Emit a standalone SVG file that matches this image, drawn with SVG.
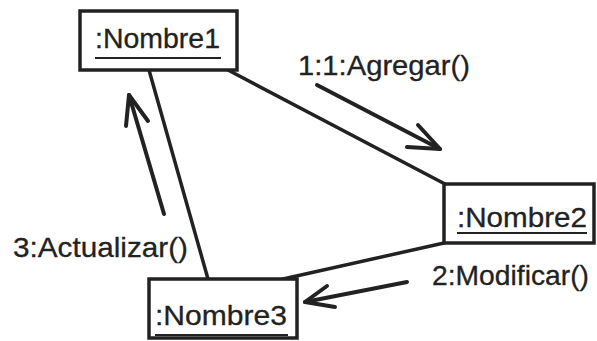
<svg xmlns="http://www.w3.org/2000/svg" width="597" height="341" viewBox="0 0 597 341">
<style>
.box{fill:#fff;stroke:#222;stroke-width:3.5}
.t{font-family:"Liberation Sans",Arial,sans-serif;font-size:28.5px;fill:#222;stroke:#222;stroke-width:0.3}
.u{stroke:#222;stroke-width:2}
.c{stroke:#222;stroke-width:3.5;fill:none;stroke-linecap:round}
.a{stroke:#222;stroke-width:4;fill:none;stroke-linecap:round;stroke-linejoin:round}
</style>
<rect width="597" height="341" fill="#fff"/>
<g id="connectors">
<line class="c" x1="149" y1="70" x2="208" y2="279"/>
<line class="c" x1="228" y1="70" x2="445" y2="184"/>
<line class="c" x1="283" y1="279" x2="444" y2="243"/>
<g id="msg1">
<line class="a" x1="317" y1="85" x2="440" y2="149"/>
<polyline class="a" points="418,125 440,149 407,147"/>
<text class="t" x="298" y="75" textLength="172" lengthAdjust="spacingAndGlyphs">1:1:Agregar()</text>
</g>
<g id="msg2">
<line class="a" x1="407" y1="282" x2="305" y2="302"/>
<polyline class="a" points="327,286 305,302 335,307"/>
<text class="t" x="432" y="285" textLength="157" lengthAdjust="spacingAndGlyphs">2:Modificar()</text>
</g>
<g id="msg3">
<line class="a" x1="164" y1="214" x2="129" y2="95"/>
<polyline class="a" points="126,126 129,95 148,121"/>
<text class="t" x="13" y="257" textLength="175" lengthAdjust="spacingAndGlyphs">3:Actualizar()</text>
</g>
</g>
<g id="nombre1">
<rect class="box" x="80" y="11" width="157" height="59"/>
<text class="t" x="95" y="48" textLength="125" lengthAdjust="spacingAndGlyphs">:Nombre1</text>
<line class="u" x1="95" y1="58" x2="221" y2="58"/>
</g>
<g id="nombre2">
<rect class="box" x="444" y="184" width="150" height="59"/>
<text class="t" x="457" y="227" textLength="130" lengthAdjust="spacingAndGlyphs">:Nombre2</text>
<line class="u" x1="457" y1="233" x2="587" y2="233"/>
</g>
<g id="nombre3">
<rect class="box" x="149" y="279" width="148" height="59"/>
<text class="t" x="155" y="325" textLength="132" lengthAdjust="spacingAndGlyphs">:Nombre3</text>
<line class="u" x1="155" y1="335" x2="288" y2="335"/>
</g>
</svg>
